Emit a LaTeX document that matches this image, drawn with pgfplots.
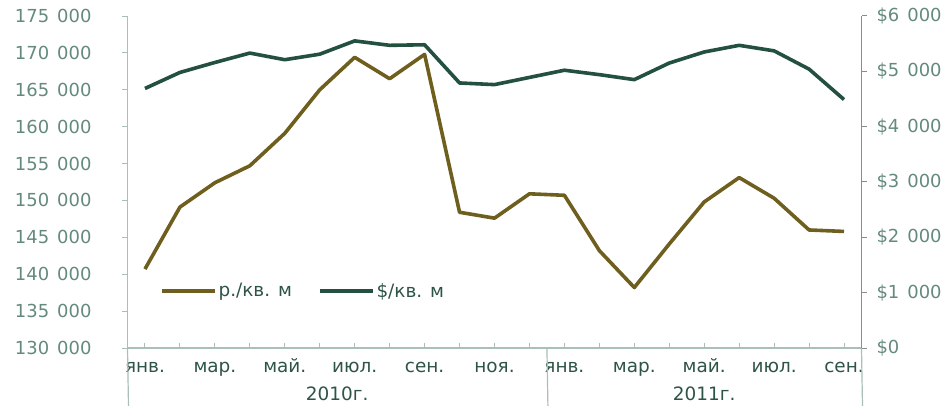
\documentclass[border=0pt]{standalone}
\usepackage{pgfplots}
\pgfplotsset{compat=1.18}
\usepackage{fontspec}
\setmainfont{DejaVu Sans}
\definecolor{brn}{HTML}{6E5F1E}
\definecolor{dgr}{HTML}{24503F}
\definecolor{lbl}{HTML}{2E5446}
\definecolor{num}{HTML}{638A7A}
\definecolor{axl}{HTML}{A9BFB7}
\definecolor{axr}{HTML}{8C8C8C}
\begin{document}
\begin{tikzpicture}
\path[use as bounding box] (-127.5bp,-58bp) rectangle (818.5bp,348bp);
\pgfplotsset{
 common/.style={
   at={(0,0)}, anchor=south west, scale only axis, width=734bp, height=332bp,
   xmin=-0.5, xmax=20.5, xtick={0,...,20},
   /pgf/number format/assume math mode=true,
   /pgf/number format/fixed,
   /pgf/number format/1000 sep={\hspace{0.45em}},
   clip=false, major tick length=5bp,
 }
}
\begin{axis}[common,
  axis x line*=bottom, axis y line*=left,
  ymin=130000, ymax=175000, ytick={130000,135000,...,175000},
  scaled y ticks=false,
  yticklabel style={font=\fontsize{18}{20}\selectfont, text=num, xshift=-27.5bp},
  x axis line style={axl, line width=1.2bp, -},
  y axis line style={axl, line width=1.2bp, -},
  xtick style={axl, line width=1bp}, ytick style={axl, line width=1bp},
  xtick align=inside, ytick align=outside,
  xticklabels={янв.,,мар.,,май.,,июл.,,сен.,,ноя.,,янв.,,мар.,,май.,,июл.,,сен.},
  xticklabel style={font=\fontsize{18.5}{20}\selectfont, text=lbl, anchor=base, yshift=-24bp},
  legend columns=2,
  legend image code/.code={\draw[#1,line width=3.6bp](0bp,0bp)--(53bp,0bp);},
  legend style={at={(axis description cs:0.044,0.172)}, anchor=west, draw=none, fill=none, inner sep=0pt,
     font=\fontsize{18.5}{20}\selectfont, text=lbl,
     /tikz/every even column/.append style={column sep=24bp}},
]
\addplot[brn, line width=3.6bp, line join=round] coordinates {
(0,140700)(1,149100)(2,152400)(3,154700)(4,159100)(5,165000)(6,169400)(7,166500)(8,169800)(9,148400)(10,147600)
(11,150900)(12,150700)(13,143200)(14,138200)(15,144100)(16,149800)(17,153100)(18,150300)(19,146000)(20,145800)};
\addlegendentry{р./кв. м}
\addlegendimage{dgr}
\addlegendentry{\$/кв. м}
\draw[axl, line width=1.2bp] (axis cs:-0.5,130000) -- ++(0,-58bp);
\draw[axl, line width=1.2bp] (axis cs:11.5,130000) -- ++(0,-58bp);
\draw[axl, line width=1.2bp] (axis cs:20.5,130000) -- ++(0,-58bp);
\node[font=\fontsize{18.5}{20}\selectfont, text=lbl, anchor=base] at (axis cs:5.5,130000) [yshift=-52bp] {2010г.};
\node[font=\fontsize{18.5}{20}\selectfont, text=lbl, anchor=base] at (axis cs:16,130000) [yshift=-52bp] {2011г.};
\end{axis}
\begin{axis}[common,
  axis x line=none, axis y line*=right,
  ymin=0, ymax=6000, ytick={0,1000,...,6000},
  yticklabel={\$\pgfmathprintnumber{\tick}},
  yticklabel style={font=\fontsize{18}{20}\selectfont, text=num, xshift=6.5bp},
  y axis line style={axr, line width=1.2bp, -},
  ytick style={axr, line width=1bp}, ytick align=outside,
]
\addplot[dgr, line width=3.6bp, line join=round] coordinates {
(0,4690)(1,4980)(2,5160)(3,5330)(4,5210)(5,5310)(6,5550)(7,5470)(8,5480)(9,4790)(10,4760)
(11,4890)(12,5020)(13,4940)(14,4850)(15,5150)(16,5350)(17,5470)(18,5370)(19,5040)(20,4490)};
\end{axis}
\end{tikzpicture}
\end{document}
